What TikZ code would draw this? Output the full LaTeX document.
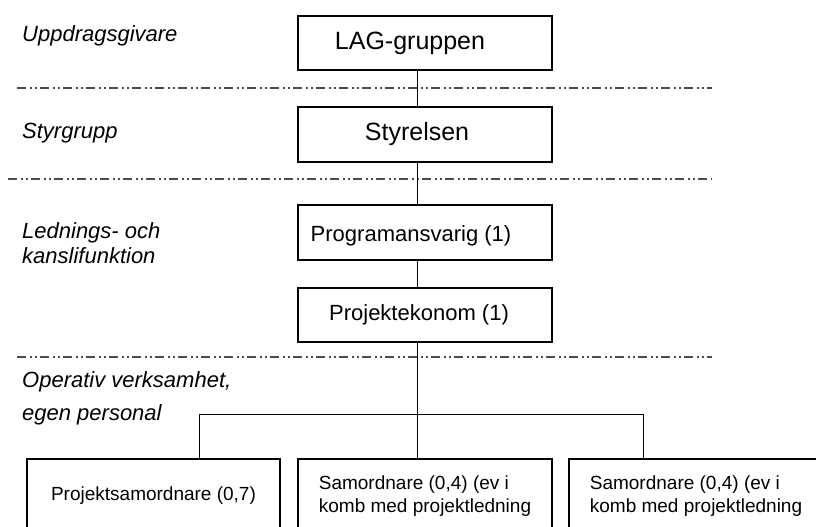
\documentclass[tikz,border=0pt]{standalone}
\usepackage{fontspec}
\setmainfont{Liberation Sans}
\usetikzlibrary{positioning}

\begin{document}
\begin{tikzpicture}[x=1pt, y=-1pt,
	ruta/.style={draw, line width=1.2pt, minimum width=254pt, inner sep=0pt},
	niva/.style={anchor=west, inner sep=0pt, align=left, font=\fontsize{22}{25}\itshape},
	grans/.style={draw=black!70, line width=1.4pt, dash pattern=on 9pt off 4pt on 2pt off 3pt on 2pt off 3pt},
	linje/.style={line width=1pt}]
	\useasboundingbox (0,0) rectangle (816,527);
	\clip (0,0) rectangle (816,527);

	% nivaer till vanster
	\node[niva] (uppdrag)	at (22, 36)		{Uppdragsgivare};
	\node[niva] (styrgr)	at (22, 133)	{Styrgrupp};
	\node[niva] (ledning)	at (22, 243)	{Lednings- och\\kanslifunktion};
	\node[niva, font=\fontsize{22}{33}\itshape] (operativ) at (22, 398) {Operativ verksamhet,\\egen personal};

	\draw[grans] (17, 88) to (712, 88);
	\draw[grans] (8, 179) to (712, 179);
	\draw[grans] (17, 357) to (712, 357);

	% organisation, texten lite till vanster i rutorna
	\node[ruta, minimum height=54pt, label={[font=\fontsize{25}{30}\selectfont, xshift=-15pt]center:LAG-gruppen}]	(lag)	at (425, 43)	{};
	\node[ruta, minimum height=55pt, label={[font=\fontsize{25}{30}\selectfont, xshift=-8pt]center:Styrelsen}]	(styr)	at (425, 134.5)	{};
	\node[ruta, minimum height=55pt, label={[font=\fontsize{22}{26}\selectfont, xshift=-14pt, yshift=-3pt]center:Programansvarig (1)}]	(prog)	at (425, 232.5)	{};
	\node[ruta, minimum height=54pt, label={[font=\fontsize{22}{26}\selectfont, xshift=-6pt]center:Projektekonom (1)}]	(ekon)	at (425, 315)	{};

	\node[ruta, minimum width=253pt, minimum height=74pt, font=\fontsize{19}{23}\selectfont] (samord)	at (153.5, 496)	{Projektsamordnare (0,7)};
	\node[ruta, minimum height=74pt, align=left, font=\fontsize{19}{23}\selectfont] (samA)	at (425, 496)	{Samordnare (0,4) (ev i\\komb med projektledning};
	\node[ruta, minimum height=74pt, align=left, font=\fontsize{19}{23}\selectfont] (samB)	at (696, 496)	{Samordnare (0,4) (ev i\\komb med projektledning};

	\coordinate (mitt)	at (417, 414);
	\coordinate (vbus)	at (199, 414);
	\coordinate (hbus)	at (643, 414);

	\draw[linje] (lag.south -| mitt) to (styr.north -| mitt);
	\draw[linje] (styr.south -| mitt) to (prog.north -| mitt);
	\draw[linje] (prog.south -| mitt) to (ekon.north -| mitt);
	\draw[linje] (ekon.south -| mitt) to (samA.north -| mitt);
	\draw[linje] (samord.north -| vbus) -- (vbus) -- (hbus) -- (samB.north -| hbus);
\end{tikzpicture}
\end{document}
